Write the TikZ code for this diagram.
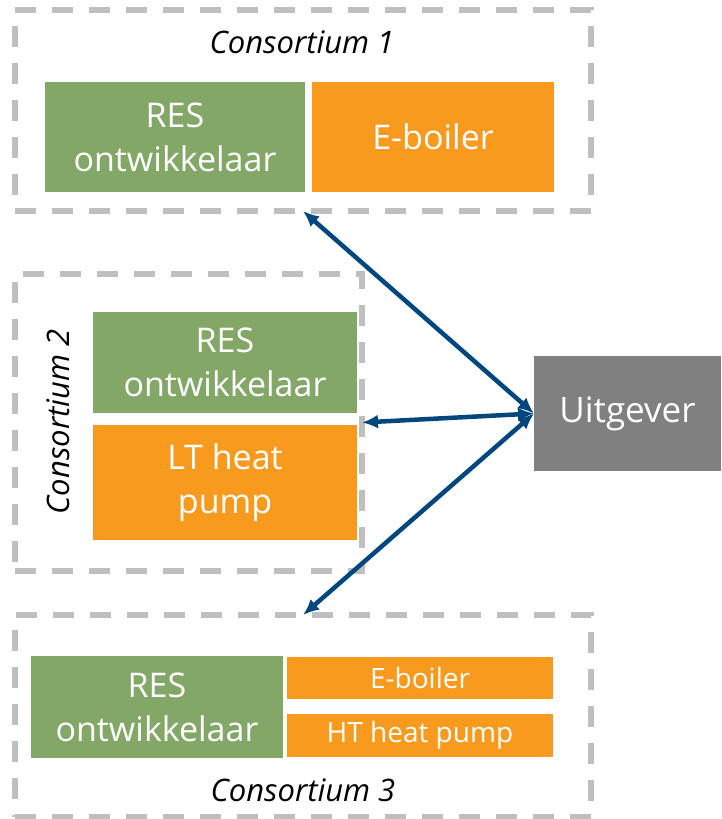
\documentclass[tikz,border=0pt]{standalone}
\usepackage{fontspec}
\setmainfont{Open Sans}
\usepackage{tikz}
\usetikzlibrary{arrows.meta,positioning,fit}
\usepackage{xcolor}

\definecolor{resgreen}{RGB}{130,167,102}
\definecolor{techorange}{RGB}{248,154,30}
\definecolor{uitgray}{RGB}{128,128,128}
\definecolor{dashgray}{RGB}{191,191,191}
\definecolor{linkblue}{RGB}{0,71,128}

\begin{document}
\begin{tikzpicture}[x=1pt,y=-1pt]
	\useasboundingbox (0,0) rectangle (721,819);
	% consortium frames
	\begin{scope}[every node/.style={rectangle,draw=dashgray,line width=5.5pt,dash pattern=on 21pt off 16pt,inner sep=0pt,outer sep=0pt}]
		\node[minimum width=576pt,minimum height=201pt] (C1) at (303,110.5) {};
		\node[minimum width=347pt,minimum height=297pt] (C2) at (188.5,422.5) {};
		\node[minimum width=576pt,minimum height=202pt] (C3) at (303,716) {};
	\end{scope}

	\begin{scope}[every node/.style={rectangle,inner sep=0pt,outer sep=0pt,text=white,align=center,font=\fontsize{34}{44}\selectfont}]
		\node[fill=resgreen,minimum width=260pt,minimum height=110pt] (R1) at (175,137) {RES\\ ontwikkelaar};
		\node[fill=techorange,minimum width=242pt,minimum height=110pt] (E1) at (433,137) {E-boiler};

		\node[fill=resgreen,minimum width=264pt,minimum height=101pt] (R2) at (225,362.5) {RES\\ ontwikkelaar};
		\node[fill=techorange,minimum width=264pt,minimum height=115pt] (L2) at (225,482.5) {LT heat\\ pump};

		\node[fill=resgreen,minimum width=252pt,minimum height=102pt] (R3) at (157,707) {RES\\ ontwikkelaar};
		\node[fill=techorange,minimum width=266pt,minimum height=42pt,font=\fontsize{28}{32}\selectfont] (E3) at (420,678) {E-boiler};
		\node[fill=techorange,minimum width=266pt,minimum height=43pt,font=\fontsize{28}{32}\selectfont] (H3) at (420,735.5) {HT heat pump};

		\node[fill=uitgray,minimum width=187pt,minimum height=115pt,font=\fontsize{35}{40}\selectfont] (U) at (627.5,413.5) {Uitgever};
	\end{scope}

	% labels
	\begin{scope}[every node/.style={font=\fontsize{31}{36}\selectfont\itshape}]
		\node (Lab1) at (302,42) {Consortium 1};
		\node[rotate=90] (Lab2) at (58,422) {Consortium 2};
		\node (Lab3) at (303,790) {Consortium 3};
	\end{scope}

	\begin{scope}
	\draw[{Latex[length=16pt,width=14pt]}-{Latex[length=16pt,width=14pt]},line width=4.5pt,linkblue] (C1.south) -- (U.west);
	\draw[{Latex[length=16pt,width=14pt]}-{Latex[length=16pt,width=14pt]},line width=4.5pt,linkblue] (C2.east) -- (U.west);
	\draw[{Latex[length=16pt,width=14pt]}-{Latex[length=16pt,width=14pt]},line width=4.5pt,linkblue] (C3.north) -- (U.west);
	\end{scope}
\end{tikzpicture}
\end{document}
